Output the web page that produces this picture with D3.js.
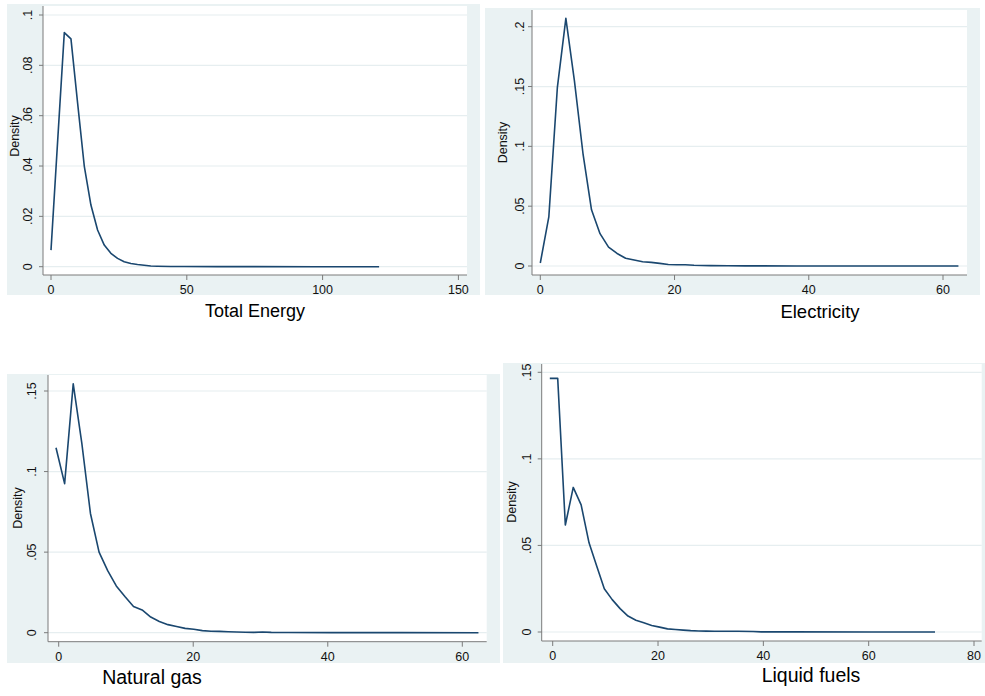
<!DOCTYPE html>
<html>
<head>
<meta charset="utf-8">
<script src="https://cdn.jsdelivr.net/npm/d3@7"></script>
<style>
body { margin: 0; background: #fff; }
svg { display: block; font-family: "Liberation Sans", Arial, sans-serif; }
</style>
</head>
<body>
<svg id="chart" width="985" height="696"></svg>
<script>
// kernel density estimates, [value, density]
var totalEnergy = [[0,0.0066],[2.45,0.05],[4.9,0.093],[7.35,0.0905],[9.8,0.065],[12.25,0.040],
  [14.7,0.0245],[17.15,0.0146],[19.6,0.0086],[22.05,0.0053],[24.5,0.0033],[26.95,0.002],
  [29.4,0.0013],[31.85,0.0009],[34.3,0.0006],[36.75,0.0003],[39.2,0.0002],[44.1,0.0001],
  [49,0.00008],[61.3,0.00004],[73.5,0.00002],[98,0.00001],[120.8,0]];

var electricity = [[0,0.0025],[1.27,0.041],[2.54,0.149],[3.81,0.207],[5.08,0.155],[6.36,0.094],
  [7.63,0.047],[8.9,0.027],[10.17,0.0158],[11.44,0.0105],[12.71,0.0065],[13.98,0.005],
  [15.25,0.0035],[16.52,0.003],[17.8,0.0022],[19.07,0.0012],[20.34,0.0011],[21.6,0.001],
  [22.9,0.0006],[24.2,0.0004],[25.4,0.0003],[27.97,0.0002],[30.5,0.0001],[38.1,0.00005],
  [50.8,0.00002],[62.3,0]];

var naturalGas = [[-0.4,0.1148],[0.88,0.0925],[2.16,0.1544],[3.44,0.1175],[4.72,0.074],[6.0,0.050],
  [7.28,0.0385],[8.56,0.029],[9.84,0.0225],[11.12,0.0163],[12.4,0.0141],[13.68,0.0097],
  [14.96,0.007],[16.24,0.005],[17.52,0.0038],[18.8,0.0027],[20.08,0.0021],[21.36,0.0013],
  [22.64,0.0009],[23.92,0.0008],[25.2,0.0006],[26.48,0.0004],[27.76,0.0003],[29.04,0.0002],
  [30.3,0.0004],[31.6,0.0002],[34.2,0.0001],[40.6,0.00005],[50.8,0.00002],[62.4,0]];

var liquidFuels = [[-0.55,0.1465],[0.95,0.1465],[2.4,0.0618],[3.9,0.0835],[5.4,0.0734],[6.9,0.0515],
  [8.4,0.0377],[9.8,0.0250],[11.3,0.0187],[12.8,0.0135],[14.3,0.0092],[15.8,0.0068],
  [17.3,0.0053],[18.8,0.0038],[20.3,0.0028],[21.8,0.0018],[23.3,0.0014],[24.8,0.0011],
  [26.2,0.0008],[27.7,0.0006],[29.2,0.0005],[30.7,0.0004],[32.2,0.0004],[35.2,0.0004],
  [38.1,0.0003],[39.6,0.0001],[45.6,0.00005],[60.5,0.00002],[72.6,0]];

var titles = ["Total Energy", "Electricity", "Natural gas", "Liquid fuels"];

var xTicks1 = [0, 50, 100, 150],
    xTicks2 = [0, 20, 40, 60],
    xTicks3 = [0, 20, 40, 60],
    xTicks4 = [0, 20, 40, 60, 80];

var yTicks1 = [0, .02, .04, .06, .08, .1],
    yTicks2 = [0, .05, .1, .15, .2],
    yTicks3 = [0, .05, .1, .15],
    yTicks4 = [0, .05, .1, .15];

// panel geometry: bg = graph region, plot = plot region [x0, y0, x1, y1]
var panels = [
  { data: totalEnergy, title: titles[0], xTicks: xTicks1, yTicks: yTicks1,
    bg: [7, 4, 480, 295], plot: [43, 6, 467, 275], xr: [51, 458.4], yr: [266.7, 15],
    titleX: 255, titleY: 317, fs: 18, tickX: 28, densX: 15, densY: 136 },
  { data: electricity, title: titles[1], xTicks: xTicks2, yTicks: yTicks2,
    bg: [485, 8, 980, 295], plot: [532, 10, 967, 275], xr: [540.3, 943], yr: [266, 26.7],
    titleX: 820, titleY: 318, fs: 18.5, tickX: 520, densX: 503, densY: 142.5 },
  { data: naturalGas, title: titles[2], xTicks: xTicks3, yTicks: yTicks3,
    bg: [7, 374, 500, 663], plot: [48, 375, 486.7, 641.7], xr: [58.7, 462.3], yr: [632.7, 391],
    titleX: 152, titleY: 684, fs: 19.5, tickX: 32, densX: 18, densY: 508 },
  { data: liquidFuels, title: titles[3], xTicks: xTicks4, yTicks: yTicks4,
    bg: [503, 363, 985, 663], plot: [541.7, 364, 981.7, 641], xr: [552.7, 974], yr: [632, 372.3],
    titleX: 811, titleY: 682, fs: 19.5, tickX: 527, densX: 512, densY: 502 }
];

var svg = d3.select("#chart");

function stataFormat(d) {
  return d === 0 ? "0" : String(d).replace(/^0/, "");
}

panels.forEach(function(p) {
  var g = svg.append("g"),
      xTop = p.xTicks[p.xTicks.length - 1],
      yTop = p.yTicks[p.yTicks.length - 1];

  var x = d3.scaleLinear().domain([0, xTop]).range(p.xr),
      y = d3.scaleLinear().domain([0, yTop]).range(p.yr);

  // graph region and plot region
  g.append("rect")
      .attr("x", p.bg[0]).attr("y", p.bg[1])
      .attr("width", p.bg[2] - p.bg[0]).attr("height", p.bg[3] - p.bg[1])
      .attr("fill", "#eaf2f3");

  g.append("rect")
      .attr("x", p.plot[0]).attr("y", p.plot[1])
      .attr("width", p.plot[2] - p.plot[0]).attr("height", p.plot[3] - p.plot[1])
      .attr("fill", "#fff");

  // gridlines
  g.selectAll("line.grid")
      .data(p.yTicks)
    .enter().append("line")
      .attr("class", "grid")
      .attr("x1", p.plot[0]).attr("x2", p.plot[2])
      .attr("y1", y).attr("y2", y)
      .attr("stroke", "#e6eef0")
      .attr("stroke-width", 1.2);

  // axis lines
  g.append("line")
      .attr("x1", p.plot[0]).attr("x2", p.plot[0])
      .attr("y1", p.plot[1]).attr("y2", p.plot[3])
      .attr("stroke", "#7a7a7a");
  g.append("line")
      .attr("x1", p.plot[0]).attr("x2", p.plot[2])
      .attr("y1", p.plot[3]).attr("y2", p.plot[3])
      .attr("stroke", "#7a7a7a");

  // y ticks
  g.selectAll("line.ytick")
      .data(p.yTicks)
    .enter().append("line")
      .attr("class", "ytick")
      .attr("x1", p.plot[0] - 4).attr("x2", p.plot[0])
      .attr("y1", y).attr("y2", y)
      .attr("stroke", "#7a7a7a");

  g.selectAll("text.ylab")
      .data(p.yTicks)
    .enter().append("text")
      .attr("class", "ylab")
      .attr("transform", function(d) { return "translate(" + p.tickX + "," + y(d) + ") rotate(-90)"; })
      .attr("text-anchor", "middle")
      .attr("dy", "0.35em")
      .attr("font-size", 12.5)
      .attr("fill", "#111")
      .text(stataFormat);

  // x ticks
  g.selectAll("line.xtick")
      .data(p.xTicks)
    .enter().append("line")
      .attr("class", "xtick")
      .attr("x1", x).attr("x2", x)
      .attr("y1", p.plot[3]).attr("y2", p.plot[3] + 5)
      .attr("stroke", "#7a7a7a");

  g.selectAll("text.xlab")
      .data(p.xTicks)
    .enter().append("text")
      .attr("class", "xlab")
      .attr("x", x)
      .attr("y", p.plot[3] + 15)
      .attr("dy", "0.35em")
      .attr("text-anchor", "middle")
      .attr("font-size", 12.5)
      .attr("fill", "#111")
      .text(stataFormat);

  // axis title
  g.append("text")
      .attr("transform", "translate(" + p.densX + "," + p.densY + ") rotate(-90)")
      .attr("text-anchor", "middle")
      .attr("dy", "0.35em")
      .attr("font-size", 12.5)
      .attr("fill", "#111")
      .text("Density");

  // density curve
  var line = d3.line()
      .x(function(d) { return x(d[0]); })
      .y(function(d) { return y(d[1]); });

  g.append("path")
      .datum(p.data)
      .attr("d", line)
      .attr("fill", "none")
      .attr("stroke", "#1a476f")
      .attr("stroke-width", 1.6)
      .attr("stroke-linejoin", "round");

  // panel caption
  g.append("text")
      .attr("x", p.titleX)
      .attr("y", p.titleY)
      .attr("text-anchor", "middle")
      .attr("font-size", p.fs)
      .attr("fill", "#000")
      .text(p.title);
});
</script>
</body>
</html>
